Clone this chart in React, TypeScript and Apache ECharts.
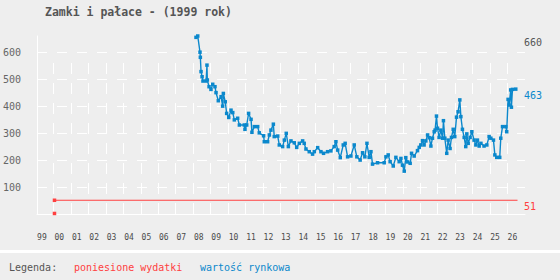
import React, { useEffect, useRef } from "react";
import * as echarts from "echarts";

const titleText = "Zamki i pałace - (1999 rok)";
const legendTitle = "Legenda:";
const expenseName = "poniesione wydatki";
const marketName = "wartość rynkowa";

const xMin = 1999;
const xMax = 2027;
const yMin = 0;
const yMax = 660;
const yStep = 100;

const expenseYears = [2000.0, 2000.0, 2000.0, 2026.57];
const expenseValues: (number | null)[] = [2, null, 51, 51];

const marketYears = [
  2008.12, 2008.22, 2008.35, 2008.37, 2008.41, 2008.47, 2008.52, 2008.7, 2008.75, 2008.77,
  2008.87, 2008.98, 2009.08, 2009.21, 2009.27, 2009.4, 2009.56, 2009.65, 2009.69, 2009.8,
  2009.88, 2010.0, 2010.13, 2010.23, 2010.32, 2010.51, 2010.61, 2010.89, 2010.93, 2011.03,
  2011.14, 2011.28, 2011.33, 2011.47, 2011.66, 2011.75, 2012.0, 2012.04, 2012.23, 2012.33,
  2012.42, 2012.56, 2012.61, 2012.81, 2012.9, 2013.09, 2013.19, 2013.3, 2013.42, 2013.57,
  2013.76, 2013.9, 2014.05, 2014.24, 2014.33, 2014.43, 2014.62, 2014.81, 2014.91, 2015.1,
  2015.29, 2015.44, 2015.67, 2015.86, 2016.05, 2016.15, 2016.25, 2016.4, 2016.57, 2016.68,
  2016.82, 2017.01, 2017.2, 2017.35, 2017.54, 2017.68, 2017.81, 2017.93, 2018.06, 2018.16,
  2018.25, 2018.54, 2018.92, 2019.02, 2019.15, 2019.26, 2019.44, 2019.59, 2019.78, 2019.88,
  2019.97, 2020.07, 2020.16, 2020.26, 2020.41, 2020.49, 2020.64, 2020.83, 2020.93, 2021.02,
  2021.12, 2021.21, 2021.31, 2021.41, 2021.5, 2021.6, 2021.69, 2021.79, 2021.84, 2021.92,
  2021.98, 2022.07, 2022.17, 2022.27, 2022.32, 2022.4, 2022.51, 2022.59, 2022.7, 2022.78,
  2022.88, 2022.97, 2023.07, 2023.16, 2023.26, 2023.32, 2023.41, 2023.51, 2023.6, 2023.66,
  2023.74, 2023.85, 2023.95, 2024.08, 2024.18, 2024.27, 2024.37, 2024.47, 2024.65, 2024.81,
  2024.94, 2025.04, 2025.19, 2025.27, 2025.38, 2025.55, 2025.61, 2025.71, 2025.9, 2025.95,
  2026.03, 2026.09, 2026.18, 2026.22, 2026.28, 2026.47,
];

const marketValues = [
  655, 660, 600, 581, 528, 509, 493, 493, 552, 497,
  472, 462, 481, 472, 450, 420, 435, 400, 447, 416,
  373, 358, 385, 376, 349, 355, 330, 330, 314, 330,
  373, 351, 303, 324, 324, 301, 290, 268, 268, 293,
  311, 333, 287, 289, 256, 250, 274, 299, 250, 271,
  264, 247, 262, 271, 262, 241, 231, 222, 231, 246,
  231, 225, 231, 234, 250, 268, 237, 209, 256, 262,
  212, 215, 256, 212, 200, 227, 212, 262, 210, 231,
  185, 190, 190, 212, 219, 194, 178, 210, 194, 206,
  181, 159, 209, 193, 188, 225, 215, 235, 247, 256,
  272, 256, 271, 293, 283, 252, 281, 305, 311, 363,
  318, 284, 311, 281, 346, 281, 225, 274, 243, 284,
  314, 287, 359, 379, 423, 361, 314, 284, 250, 297,
  262, 284, 305, 274, 256, 274, 252, 262, 252, 256,
  287, 281, 274, 219, 210, 210, 281, 324, 324, 305,
  425, 404, 460, 396, 462, 463,
];

const yearLabels = [
  "99", "00", "01", "02", "03", "04", "05", "06", "07", "08", "09", "10", "11", "12",
  "13", "14", "15", "16", "17", "18", "19", "20", "21", "22", "23", "24", "25", "26",
];

const BG = "#eeeeee";
const RED = "#ff4040";
const BLUE = "#0b88cc";
const GRAY = "#555555";
const MONO = "'DejaVu Sans Mono', monospace";

export default function App() {
  const ref = useRef<HTMLDivElement>(null);

  useEffect(() => {
    document.body.style.margin = "0";
    if (!ref.current) return;
    const chart = echarts.init(ref.current, null, { renderer: "svg" });

    const expenseData = expenseYears.map((x, i) => {
      const v = expenseValues[i];
      if (v === null) return [x, "-"];
      if (i === expenseYears.length - 1) return { value: [x, v], symbol: "none" };
      return [x, v];
    });
    const marketData = marketYears.map((x, i) => [x, marketValues[i]]);
    const lastMarket = marketValues[marketValues.length - 1];
    const lastExpense = expenseValues[expenseValues.length - 1] as number;

    chart.setOption({
      animation: false,
      backgroundColor: BG,
      grid: [
        { left: 36, right: 35, top: 36, bottom: 66 },
        { left: 36, right: 35, top: 63, bottom: 64 },
      ],
      xAxis: [
        {
          type: "value",
          gridIndex: 0,
          min: xMin,
          max: xMax,
          interval: 1,
          axisLine: { show: true, lineStyle: { color: "#ffffff", width: 1 } },
          axisTick: { show: false },
          splitLine: { show: false },
          axisLabel: {
            show: true,
            margin: 19,
            align: "left",
            color: "#4a4a4a",
            fontFamily: MONO,
            fontSize: 8,
            formatter: (v: number) => {
              const idx = Math.round(v) - xMin;
              return yearLabels[idx] ?? "";
            },
          },
        },
        {
          type: "value",
          gridIndex: 1,
          min: xMin,
          max: xMax,
          interval: 1,
          axisLine: { show: false },
          axisTick: { show: false },
          axisLabel: { show: false },
          splitLine: {
            show: true,
            showMinLine: false,
            showMaxLine: false,
            lineStyle: { color: "#ffffff", width: 1, type: [11, 9] },
          },
        },
      ],
      yAxis: [
        {
          type: "value",
          gridIndex: 0,
          min: yMin,
          max: yMax,
          interval: yStep,
          axisLine: { show: true, lineStyle: { color: "#ffffff", width: 1 } },
          axisTick: { show: false },
          axisLabel: {
            margin: 16,
            color: "#666666",
            fontFamily: MONO,
            fontSize: 10,
            showMinLabel: false,
            showMaxLabel: false,
          },
          splitLine: {
            show: true,
            showMinLine: false,
            showMaxLine: false,
            lineStyle: { color: "#ffffff", width: 1, type: [10, 10] },
          },
        },
        {
          type: "value",
          gridIndex: 1,
          min: yMin,
          max: yMax,
          show: false,
          splitLine: { show: false },
        },
      ],
      series: [
        {
          name: expenseName,
          type: "line",
          xAxisIndex: 0,
          yAxisIndex: 0,
          data: expenseData,
          symbol: "rect",
          symbolSize: 3.5,
          showAllSymbol: true,
          connectNulls: false,
          lineStyle: { color: RED, width: 1.2 },
          itemStyle: { color: RED },
          z: 3,
        },
        {
          name: marketName,
          type: "line",
          xAxisIndex: 0,
          yAxisIndex: 0,
          data: marketData,
          symbol: "rect",
          symbolSize: 3.5,
          showAllSymbol: true,
          lineStyle: { color: BLUE, width: 1.4 },
          itemStyle: { color: BLUE },
          z: 4,
        },
      ],
    });

    const pMax = chart.convertToPixel({ xAxisIndex: 0, yAxisIndex: 0 }, [xMax, yMax]) as number[];
    const pMkt = chart.convertToPixel({ xAxisIndex: 0, yAxisIndex: 0 }, [xMax, lastMarket]) as number[];
    const pExp = chart.convertToPixel({ xAxisIndex: 0, yAxisIndex: 0 }, [xMax, lastExpense]) as number[];

    const txt = (x: number, y: number, text: string, fill: string, font: string, va = "middle") => ({
      type: "text",
      x,
      y,
      silent: true,
      style: { text, fill, font, textVerticalAlign: va, verticalAlign: va, align: "left" },
    });

    chart.setOption({
      graphic: [
        txt(45, 12, titleText, GRAY, `bold 11.5px ${MONO}`),
        txt(pMax[0] - 1, pMax[1] + 1, String(yMax), GRAY, `10px ${MONO}`, "top"),
        txt(pMkt[0] - 1, pMkt[1] + 1, String(lastMarket), BLUE, `10px ${MONO}`, "top"),
        txt(pExp[0] - 1, pExp[1] + 1, String(lastExpense), RED, `10px ${MONO}`, "top"),
        {
          type: "rect",
          silent: true,
          shape: { x: 0, y: 250, width: 560, height: 3 },
          style: { fill: "#ffffff" },
        },
        txt(9, 267, legendTitle, GRAY, `10px ${MONO}`),
        txt(74, 267, expenseName, RED, `10px ${MONO}`),
        txt(200, 267, marketName, BLUE, `10px ${MONO}`),
      ],
    });

    return () => chart.dispose();
  }, []);

  return <div ref={ref} style={{ width: 560, height: 280 }} />;
}
